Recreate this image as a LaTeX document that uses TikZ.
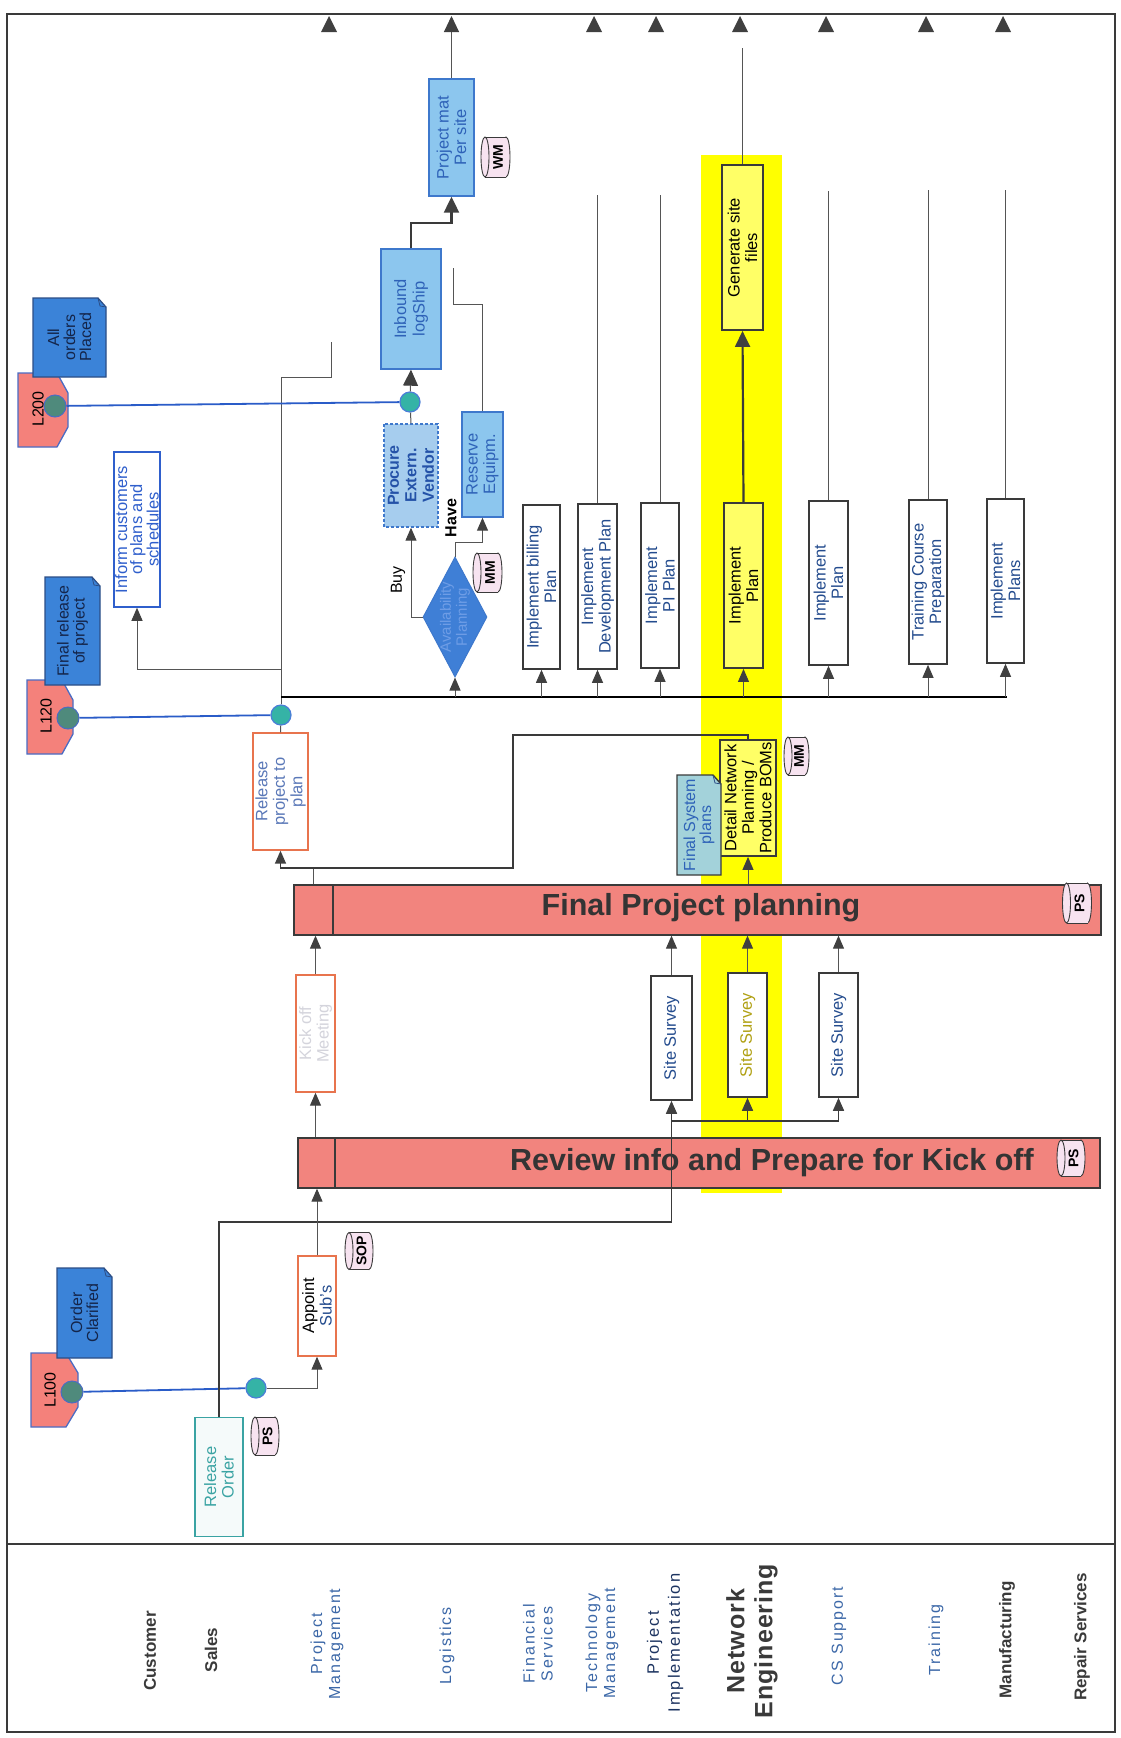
\documentclass[tikz,border=0pt]{standalone}
\usepackage{fontspec}
\setmainfont{Liberation Sans}
\newfontfamily\spacedfont[LetterSpace=12]{Liberation Sans}
\newfontfamily\nefont[LetterSpace=4]{Liberation Sans}
\usetikzlibrary{arrows.meta,shapes.geometric,calc}
\definecolor{linegray}{HTML}{555555}
\definecolor{darkline}{HTML}{3A3A3A}
\definecolor{arrowgray}{HTML}{404040}
\definecolor{blueline}{HTML}{2A5CC8}
\definecolor{pinkbar}{HTML}{F2847E}
\definecolor{eventpink}{HTML}{F4817B}
\definecolor{eventborder}{HTML}{4A6CC4}
\definecolor{evcircle}{HTML}{4F8A7C}
\definecolor{globefill}{HTML}{35B3A6}
\definecolor{globeborder}{HTML}{4A7ED8}
\definecolor{docblue}{HTML}{3B83D8}
\definecolor{docborder}{HTML}{2C4E86}
\definecolor{doctext}{HTML}{14254A}
\definecolor{lightblue}{HTML}{8CC6EE}
\definecolor{lbborder}{HTML}{3E78CC}
\definecolor{lbtext}{HTML}{2E62B8}
\definecolor{speckle}{HTML}{A6CDEE}
\definecolor{procuretext}{HTML}{2452A8}
\definecolor{yellowcol}{HTML}{FFFF00}
\definecolor{yellowbox}{HTML}{FFFF66}
\definecolor{boxborder}{HTML}{3A3A3A}
\definecolor{boxtext}{HTML}{244C8E}
\definecolor{orangeb}{HTML}{E8744E}
\definecolor{tealb}{HTML}{3AA3A3}
\definecolor{fadegray}{HTML}{D4D4DC}
\definecolor{fadeblue}{HTML}{5A78B8}
\definecolor{drumfill}{HTML}{F7E3F0}
\definecolor{diamfill}{HTML}{3F7FD6}
\definecolor{diamtext}{HTML}{6E9DE6}
\definecolor{lanegray}{HTML}{3A3A3A}
\definecolor{laneblue}{HTML}{3C68A8}
\definecolor{lanenavy}{HTML}{1D3461}
\definecolor{finsys}{HTML}{A3D2DA}
\definecolor{olivetext}{HTML}{B0A012}
\definecolor{bartext}{HTML}{343434}
\definecolor{informblue}{HTML}{2F5FCC}

\tikzset{
  conn/.style={draw=linegray, line width=1pt},
  darkconn/.style={draw=darkline, line width=1.6pt},
  thickconn/.style={draw=darkline, line width=2.2pt},
  blueconn/.style={draw=blueline, line width=1.8pt},
  blackline/.style={draw=black, line width=1.3pt},
  arr/.style={-{Triangle[length=13pt,width=11pt,color=arrowgray]}},
  bigarr/.style={-{Triangle[length=16pt,width=15pt,color=arrowgray]}},
  wh/.style 2 args={minimum height=#1pt, minimum width=#2pt},
  vbox/.style={rectangle, rotate=90, inner sep=1pt, align=center, font=\fontsize{16.5}{17.5}\selectfont},
  plainbox/.style={vbox, draw=boxborder, line width=1.6pt, fill=white, text=boxtext},
  ybox/.style={vbox, draw=boxborder, line width=1.8pt, fill=yellowbox, text=black},
  ssbox/.style={vbox, draw=boxborder, line width=1.6pt, fill=white, text=boxtext},
  orangebox/.style={vbox, draw=orangeb, line width=1.4pt, fill=white},
  tealbox/.style={vbox, draw=tealb, line width=1.4pt, fill=tealb!5, text=tealb},
  lbbox/.style={vbox, draw=lbborder, line width=1.4pt, fill=lightblue, text=lbtext},
  informbox/.style={vbox, draw=informblue, line width=1.5pt, fill=white, text=informblue, font=\fontsize{16.5}{15}\selectfont},
  barbox/.style={rectangle, draw=darkline, line width=1.3pt, fill=pinkbar, inner sep=0pt},
  bartxt/.style={font=\fontsize{30.5}{32}\selectfont\bfseries, text=bartext},
  drumst/.style={draw=darkline, line width=0.9pt, fill=drumfill},
  drumln/.style={draw=darkline, line width=0.9pt},
  drumtext/.style={rotate=90, inner sep=0pt, font=\fontsize{14}{15}\selectfont\bfseries, text=black},
  docst/.style={draw=docborder, line width=1.2pt, fill=docblue},
  finsysst/.style={draw=darkline, line width=1.4pt, fill=finsys},
  docfold/.style={draw=docborder, line width=0.8pt},
  doctxt/.style={rotate=90, align=center, inner sep=0pt, font=\fontsize{16}{16}\selectfont, text=doctext},
  eventst/.style={draw=eventborder, line width=1.3pt, fill=eventpink},
  evtxt/.style={rotate=90, inner sep=0pt, font=\fontsize{16}{16}\selectfont, text=black},
  evcirc/.style={circle, draw=eventborder, line width=1pt, fill=evcircle, minimum size=22pt, inner sep=0pt},
  globe/.style={circle, draw=globeborder, line width=1.2pt, fill=globefill, minimum size=20pt, inner sep=0pt},
  lanebold/.style={rotate=90, align=center, font=\fontsize{17}{19}\selectfont\bfseries, text=lanegray},
  laneblue/.style={rotate=90, align=center, font=\spacedfont\fontsize{16}{18}\selectfont, text=laneblue},
  framest/.style={draw=darkline, line width=2.2pt}
}

\newcommand\mydrum[6]{%
  \begin{scope}[shift={(#2,#3)}]
    \filldraw[drumst] ({#4/2-4},0) ellipse[x radius=4, y radius={#5/2}];
    \fill[drumfill] ({-#4/2+4},{-#5/2}) rectangle ({#4/2-4},{#5/2});
    \draw[drumln] ({-#4/2+4},{-#5/2}) -- ({#4/2-4},{-#5/2}) ({-#4/2+4},{#5/2}) -- ({#4/2-4},{#5/2});
    \filldraw[drumst] ({-#4/2+4},0) ellipse[x radius=4, y radius={#5/2}];
    \node[drumtext] (#1) at (2.5,0) {#6};
  \end{scope}}

\newcommand\mydoc[7]{%
  \filldraw[#7] (#2,#3) -- ({#4-8},#3) -- (#4,{#3+9}) -- (#4,#5) -- (#2,#5) -- cycle;
  \draw[docfold] ({#4-8},#3) -- ({#4-6},{#3+8}) -- (#4,{#3+9});
  \node[doctxt] (#1) at ({(#2+#4)/2},{(#3+#5)/2}) {#6};}

\begin{document}
\begin{tikzpicture}[x=1pt,y=-1pt]
\useasboundingbox (0,0) rectangle (1121,1738);
\fill[white] (0,0) rectangle (1121,1738);

% frame and header
\draw[framest] (7,14) rectangle (1115,1732);
\draw[framest] (7,1544) -- (1115,1544);

% lane labels
\node[lanebold] (lcust) at (150,1651) {Customer};
\node[lanebold] (lsales) at (211,1650) {Sales};
\node[laneblue] (lpm) at (327,1644) {Project\\Management};
\node[laneblue] (llog) at (447,1646) {Logistics};
\node[laneblue] (lfin) at (538,1644) {Financial\\Services};
\node[laneblue] (ltech) at (602,1643) {Technology\\Management};
\node[rotate=90, align=center, font=\spacedfont\fontsize{16.5}{21}\selectfont, text=lanenavy] (lpi) at (665,1643) {Project\\Implementation};
\node[rotate=90, align=center, font=\nefont\fontsize{25}{28}\selectfont\bfseries, text=lanegray] (lne) at (752,1641) {Network\\Engineering};
\node[laneblue] (lcs) at (839,1636) {CS Support};
\node[laneblue] (ltrain) at (936,1640) {Training};
\node[lanebold] (lmanuf) at (1007,1640) {Manufacturing};
\node[lanebold] (lrep) at (1082,1637) {Repair Services};

% yellow highlight column
\fill[yellowcol] (701,155) rectangle (782,1193);

% bars
\node[barbox, minimum width=802pt, minimum height=50pt] (review) at (699,1163) {};
\draw[darkline, line width=1.3pt] (335,1138) -- (335,1188);
\node[bartxt] (reviewtxt) at (772,1163) {Review info and Prepare for Kick off};
\mydrum{ps2}{1071}{1158}{28}{36}{PS}
\node[barbox, minimum width=807pt, minimum height=50pt] (final) at (697.5,910) {};
\draw[darkline, line width=1.3pt] (333,885) -- (333,935);
\node[bartxt] (finaltxt) at (701,908) {Final Project planning};
\mydrum{ps3}{1077}{903}{29}{40}{PS}

% events and documents
\filldraw[eventst] (31,1353) -- (66,1353) -- (78,1373) -- (78,1407) -- (66,1427) -- (31,1427) -- cycle;
\node[evtxt] (l100t) at (50,1390) {L100};
\mydoc{ordclar}{57}{1268}{112}{1358}{Order\\Clarified}{docst}
\node[evcirc] (l100c) at (72,1392) {};

\filldraw[eventst] (27,680) -- (62,680) -- (73,700) -- (73,734) -- (62,754) -- (27,754) -- cycle;
\node[evtxt] (l120t) at (46,716) {L120};
\mydoc{finrel}{45}{577}{100}{685}{Final release\\of project}{docst}
\node[evcirc] (l120c) at (68,718) {};

\filldraw[eventst] (18,373) -- (57,373) -- (68,393) -- (68,427) -- (57,447) -- (18,447) -- cycle;
\node[evtxt] (l200t) at (38,409) {L200};
\mydoc{allord}{33}{298}{106}{377}{All\\orders\\Placed}{docst}
\node[evcirc] (l200c) at (55,406) {};

% boxes
\node[tealbox, wh={48}{119}] (relorder) at (219,1477) {Release\\Order};
\mydrum{ps1}{265}{1436}{28}{38}{PS}
\node[orangebox, wh={38}{100}, text=black] (appoint) at (317,1306) {Appoint\\\textcolor{boxtext}{Sub's}};
\mydrum{sop}{359}{1251}{28}{37}{SOP}
\node[orangebox, wh={39}{117}, text=fadegray] (kickoff) at (315.5,1033.5) {Kick off\\Meeting};
\node[orangebox, wh={55}{117}, text=fadeblue] (relproj) at (280.5,791.5) {Release\\project to\\plan};

\node[ssbox, wh={41}{124}] (ss1) at (671.5,1038) {Site Survey};
\node[ssbox, wh={39}{124}, text=olivetext] (ss2) at (747.5,1035) {Site Survey};
\node[ssbox, wh={39}{124}] (ss3) at (838.5,1035) {Site Survey};

\node[ybox, wh={56}{116}] (detail) at (748,798) {Detail Network\\Planning /\\Produce BOMs};
\mydoc{finsysdoc}{677}{775}{721}{875}{\textcolor{lbtext}{Final System}\\\textcolor{lbtext}{plans}}{finsysst}
\mydrum{mm1}{796.5}{756}{25}{38}{MM}

\node[informbox, wh={46}{155}] (inform) at (137,529.5) {Inform customers\\of plans and\\schedules};

\node[diamond, draw=lbborder, line width=1pt, fill=diamfill, minimum width=64pt, minimum height=120pt, inner sep=0pt] (diamond) at (455,617) {};
\node[rotate=90, align=center, font=\fontsize{15}{16}\selectfont, text=diamtext] (diamtxt) at (455,617) {Availability\\Planning};
\mydrum{mm2}{487.5}{572.5}{29}{39}{MM}

\node[lbbox, wh={54}{103}, fill=speckle, draw=lbborder, densely dashed, text=procuretext, font=\fontsize{16}{17.5}\selectfont\bfseries] (procure) at (411,475.5) {Procure\\Extern.\\Vendor};
\node[lbbox, wh={41}{105}] (reserve) at (482.5,464.5) {Reserve\\Equipm.};
\node[lbbox, wh={60}{120}, font=\fontsize{16.5}{18.5}\selectfont] (inbound) at (411,309) {Inbound\\logShip};
\node[lbbox, wh={45}{117}] (projmat) at (451.5,137.5) {Project mat\\Per site};
\mydrum{wm}{495.5}{157}{29}{40}{WM}

\node[plainbox, wh={37}{164}] (billing) at (541.5,587) {Implement billing\\Plan};
\node[plainbox, wh={39}{165}] (devplan) at (597.5,586.5) {Implement\\Development Plan};
\node[plainbox, wh={38}{165}] (piplan) at (660,585.5) {Implement\\PI Plan};
\node[ybox, wh={39}{165}] (neplan) at (743.5,585.5) {Implement\\Plan};
\node[ybox, wh={41}{165}] (genfiles) at (742.5,247.5) {Generate site\\files};
\node[plainbox, wh={39}{164}] (csplan) at (828.5,583) {Implement\\Plan};
\node[plainbox, wh={38}{164}] (training) at (928,582) {Training Course\\Preparation};
\node[plainbox, wh={37}{164}] (manuf) at (1005.5,581) {Implement\\Plans};

\node[globe] (globe1) at (256,1388) {};
\node[globe] (globe2) at (281,715) {};
\node[globe] (globe3) at (410,402) {};

\node[rotate=90, font=\fontsize{16}{16}\selectfont] (buy) at (398,580) {Buy};
\node[rotate=90, font=\fontsize{16}{16}\selectfont\bfseries] (have) at (451,518) {Have};

% coordinates
\coordinate (j1) at (671.5,1222);
\coordinate (j2) at (671.5,1121);

% connectors lower part
\draw[blueconn] (l100c) -- (globe1);
\draw[conn,arr] (globe1) -| (appoint.west);
\draw[darkconn,arr] (relorder.east) |- (j1) -- (ss1.west);
\draw[darkconn,arr] (j2) -| (ss3.west);
\draw[darkconn,arr] (j2 -| ss2.west) -- (ss2.west);
\draw[conn,arr] (appoint.east) -- (appoint.east |- review.south);
\draw[conn,arr] (kickoff.west |- review.north) -- (kickoff.west);
\draw[conn,arr] (kickoff.east) -- (kickoff.east |- final.south);
\draw[conn,arr] (ss1.east) -- (ss1.east |- final.south);
\draw[conn,arr] (ss2.east) -- (ss2.east |- final.south);
\draw[conn,arr] (ss3.east) -- (ss3.east |- final.south);
\draw[conn,arr] (detail.west |- final.north) -- (detail.west);
\draw[conn] (final.north -| 313,0) -- (313,868);
\draw[darkconn,arr] (detail.east) |- (513,735) |- (relproj.west |- 0,868) -- (relproj.west);

% connectors upper part
\draw[blueconn] (l120c) -- (globe2);
\draw[conn] (globe2) -- (relproj.east);
\draw[conn] (globe2) |- (331,377) -- (331,342);
\draw[conn,arr] (281,669) -| (inform.west);
\draw[blackline] (281,697) -- (1007,697);
\draw[conn,arr] (diamond.south |- 0,697) -- (diamond.south);
\foreach \n in {billing,devplan,piplan,neplan,csplan,training,manuf}
  \draw[conn,arr] (\n.west |- 0,697) -- (\n.west);
\draw[conn,arr] (diamond.west) -| (procure.west);
\draw[conn,arr] (diamond.north) |- (reserve.west |- 0,542) -- (reserve.west);
\draw[conn] (procure.east) -- (globe3);
\draw[blueconn] (l200c) -- (globe3);
\draw[conn,bigarr] (globe3) -- (inbound.west);
\draw[conn] (reserve.east) |- (453,304) -- (453,268);
\draw[thickconn,bigarr] (inbound.east) |- (projmat.west |- 0,223) -- (projmat.west);
\draw[conn,bigarr] (projmat.east) -- (projmat.east |- 0,16);
\draw[conn] (devplan.east) -- (devplan.east |- 0,195);
\draw[conn] (piplan.east) -- (piplan.east |- 0,195);
\draw[thickconn,bigarr] (neplan.east) -- (genfiles.west);
\draw[conn] (genfiles.east) -- (genfiles.east |- 0,48);
\draw[conn] (csplan.east) -- (csplan.east |- 0,191);
\draw[conn] (training.east) -- (training.east |- 0,190);
\draw[conn] (manuf.east) -- (manuf.east |- 0,190);

% off-page arrowheads at the top border
\foreach \x in {329,594,656,740,826,926,1003}
  \fill[arrowgray] ({\x-8},32) -- ({\x+8},32) -- (\x,16) -- cycle;
\end{tikzpicture}
\end{document}
